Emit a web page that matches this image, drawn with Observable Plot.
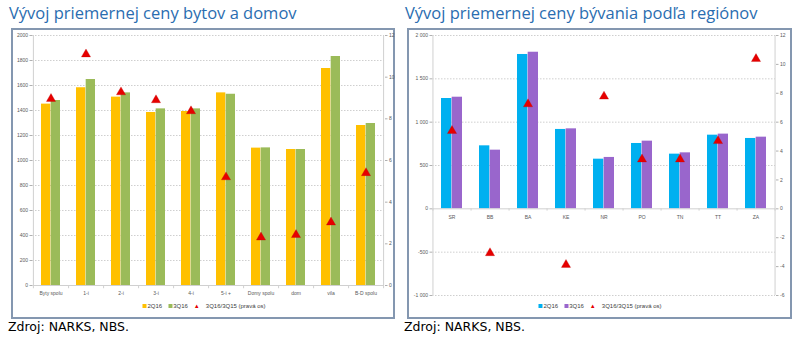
<!DOCTYPE html>
<html><head><meta charset="utf-8">
<script src="https://cdn.jsdelivr.net/npm/d3@7"></script>
<script src="https://cdn.jsdelivr.net/npm/@observablehq/plot@0.6"></script>
<style>
body{margin:0;background:#fff;width:800px;height:346px;position:relative;overflow:hidden;font-family:"Open Sans",sans-serif}
.title{position:absolute;top:1px;font-size:16.5px;color:#2A6DB0;white-space:nowrap;font-family:"Open Sans",sans-serif}
.panel{position:absolute;top:28px;height:291px;border:2px solid #8497B0;box-sizing:border-box}
.src{position:absolute;top:319px;font-size:12.5px;font-family:"DejaVu Sans",sans-serif;color:#000;white-space:nowrap}
.legend{position:absolute;top:303px;font-size:6px;font-family:"Liberation Sans",sans-serif;color:#404040;white-space:nowrap;transform:translateX(-50%)}
.legend span{margin-right:6px}
.sq{display:inline-block;width:4px;height:4px;margin-right:1px;vertical-align:0}
.tri{color:#e60000;font-size:6px;margin-right:1px}
.chart{position:absolute;top:28px}
</style></head>
<body>
<div class="title" style="left:9px">Vývoj priemernej ceny bytov a domov</div>
<div class="title" style="left:405px">Vývoj priemernej ceny bývania podľa regiónov</div>
<div class="panel" style="left:11px;width:384px"></div>
<div class="panel" style="left:407px;width:385px"></div>
<div id="c1" class="chart" style="left:12px"></div>
<div id="c2" class="chart" style="left:408px"></div>
<div id="l1" class="legend" style="left:204px"></div>
<div id="l2" class="legend" style="left:600px"></div>
<div class="src" style="left:8px">Zdroj: NARKS, NBS.</div>
<div class="src" style="left:404px">Zdroj: NARKS, NBS.</div>
<script>
// ---- data: left chart ----
const catsL = ["Byty spolu","1-i","2-i","3-i","4-i","5-i +","Domy spolu","dom","vila","B-D spolu"];
const q2L = [1451, 1582, 1507, 1384, 1392, 1541, 1099, 1088, 1736, 1280];
const q3L = [1480, 1648, 1541, 1413, 1413, 1530, 1101, 1088, 1832, 1296];
const yoyL = [8.96, 11.1, 9.28, 8.9, 8.37, 5.2, 2.31, 2.43, 3.03, 5.4];
const yTicksL = [0,200,400,600,800,1000,1200,1400,1600,1800,2000];
const rTicksL = [0,2,4,6,8,10,12];
// ---- data: right chart ----
const catsR = ["SR","BB","BA","KE","NR","PO","TN","TT","ZA"];
const q2R = [1273, 727, 1781, 916, 573, 754, 631, 850, 812];
const q3R = [1288, 677, 1807, 923, 593, 781, 646, 862, 827];
const yoyR = [5.4, -3.06, 7.25, -3.87, 7.78, 3.43, 3.43, 4.7, 10.38];
const yTicksR = [-1000,-500,0,500,1000,1500,2000];
const rTicksR = [-6,-4,-2,0,2,4,6,8,10,12];
const seriesNames = ["2Q16","3Q16","3Q16/3Q15 (pravá os)"];

const RED = "#e60000";
const GRID = "#cfcfcf";
const AXIS = "#d0d0d0";
const LABEL = "#595959";

function spaced(d){ return (d<0?"-":"") + String(Math.abs(d)).replace(/\B(?=(\d{3})+(?!\d))/g," "); }

function chart(o){
  const {cats,a,b,r,yDomain,rMax,yTicks,rTicks,colA,colB,width,height,mL,mR,mT,mB,fmt,labelsAtZero,padInner} = o;
  const k = yDomain[1]/rMax;
  const data = cats.map((c,i)=>({c, a:a[i], b:b[i], r:r[i]}));
  const step = (width-mL-mR)/cats.length;
  const half = step*(1-padInner)/2;
  const marks = [
    Plot.gridY(yTicks.filter(t=>t!==0), {stroke:GRID, strokeOpacity:1, strokeDasharray:"1.5,1.5"}),
    Plot.ruleX([cats[0]], {y1:yDomain[0], y2:yDomain[1], dx:-step/2, stroke:AXIS}),
    Plot.ruleX([cats[cats.length-1]], {y1:yDomain[0], y2:yDomain[1], dx:step/2, stroke:AXIS}),
    Plot.barY(data, {x:"c", y:"a", fill:colA, insetRight:half}),
    Plot.barY(data, {x:"c", y:"b", fill:colB, insetLeft:half}),
    Plot.ruleY([0], {stroke:AXIS}),
    Plot.ruleX(cats, {x:d=>d, y1:0, y2:-yDomain[1]*0.013, dx:step/2, stroke:AXIS}),
    Plot.ruleX([cats[0]], {y1:0, y2:-yDomain[1]*0.013, dx:-step/2, stroke:AXIS}),
    Plot.axisY(yTicks, {anchor:"left", tickSize:2.5, tickPadding:2, stroke:"#b0b0b0", fill:LABEL, tickFormat:fmt}),
    Plot.axisY(rTicks.map(t=>t*k), {anchor:"right", tickSize:2.5, tickPadding:2, stroke:"#b0b0b0", fill:LABEL, tickFormat:d=>spaced(Math.round(d/k))}),
    Plot.text(cats, {x:d=>d, y:0, dy:labelsAtZero?9:8, fill:LABEL}),
    Plot.dot(data, {x:"c", y:d=>d.r*k, symbol:"triangle", r:3.4, fill:RED, stroke:"#c00000", strokeWidth:0.3})
  ];
  return Plot.plot({
    width, height, marginLeft:mL, marginRight:mR, marginTop:mT, marginBottom:mB,
    x:{type:"band", domain:cats, paddingInner:padInner, paddingOuter:padInner/2, axis:null},
    y:{domain:yDomain, axis:null},
    style:{fontFamily:"Liberation Sans, sans-serif", fontSize:"5px", background:"transparent", overflow:"visible"},
    marks
  });
}

document.getElementById("c1").append(chart({
  cats:catsL, a:q2L, b:q3L, r:yoyL, yDomain:[0,2000], rMax:12, yTicks:yTicksL, rTicks:rTicksL,
  colA:"#FFC000", colB:"#9BBB59", width:382, height:270, mL:20, mR:10, mT:7, mB:13,
  fmt:d=>String(d), labelsAtZero:false, padInner:0.45
}));
document.getElementById("c2").append(chart({
  cats:catsR, a:q2R, b:q3R, r:yoyR, yDomain:[-1000,2000], rMax:12, yTicks:yTicksR, rTicks:rTicksR,
  colA:"#00B0F0", colB:"#9966CC", width:383, height:272, mL:24, mR:16, mT:7, mB:5,
  fmt:spaced, labelsAtZero:true, padInner:0.44
}));

function legend(el, cA, cB){
  el.innerHTML =
    `<span><i class="sq" style="background:${cA}"></i>${seriesNames[0]}</span>`+
    `<span><i class="sq" style="background:${cB}"></i>${seriesNames[1]}</span>`+
    `<span style="margin-right:0"><span class="tri">▲</span>${seriesNames[2]}</span>`;
}
legend(document.getElementById("l1"), "#FFC000", "#9BBB59");
legend(document.getElementById("l2"), "#00B0F0", "#9966CC");
</script>
</body></html>
